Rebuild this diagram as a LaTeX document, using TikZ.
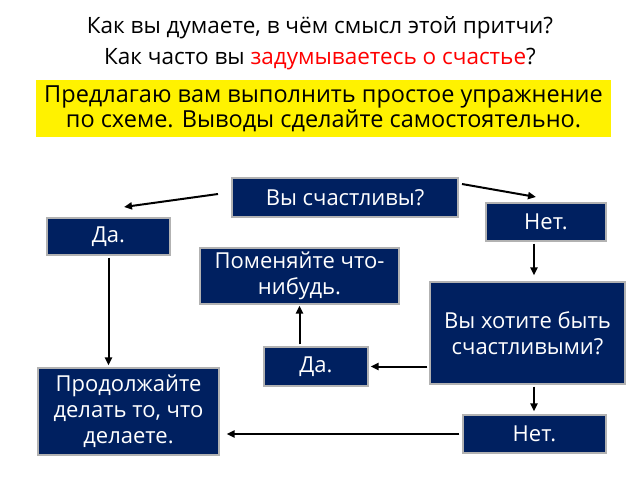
\documentclass[tikz,border=0pt]{standalone}
\usepackage{fontspec}
\setmainfont{Open Sans}
\usetikzlibrary{arrows.meta}
\definecolor{boxblue}{HTML}{002060}
\begin{document}
\begin{tikzpicture}[x=1pt, y=-1pt,
box/.style={draw=gray!60, line width=1.2pt, fill=boxblue, text=white, align=center, inner sep=1pt, font=\fontsize{22}{26}\selectfont},
arr/.style={-{Triangle[length=8pt,width=7pt]}, line width=2pt}
]
\useasboundingbox (0,0) rectangle (640,480);
%Title
\node[font=\fontsize{22.5}{26}\selectfont] (t1) at (320,28) {Как вы думаете, в чём смысл этой притчи?};
\node[font=\fontsize{22.5}{26}\selectfont] (t2) at (320,59) {Как часто вы \textcolor{red}{задумываетесь о счастье}?};
\node[fill=yellow, minimum width=575pt, minimum height=57pt, align=center, inner sep=0pt, font=\fontsize{23.5}{25}\selectfont] (task) at (323.5,108.5)
  {Предлагаю вам выполнить простое упражнение\\по схеме. Выводы сделайте самостоятельно.};
%Nodes
\node[box, minimum width=226pt, minimum height=39pt] (q1)   at (345,197.5) {Вы счастливы?};
\node[box, minimum width=120pt, minimum height=38pt] (no1)  at (546,222)   {Нет.};
\node[box, minimum width=123pt, minimum height=37pt] (yes1) at (108.5,236.5) {Да.};
\node[box, minimum width=199pt, minimum height=56pt] (chg)  at (299.5,276) {Поменяйте что-\\нибудь.};
\node[box, minimum width=195pt, minimum height=102pt] (q2)  at (527.5,333) {Вы хотите быть\\счастливыми?};
\node[box, minimum width=104pt, minimum height=39pt] (yes2) at (316,366.5) {Да.};
\node[box, minimum width=181pt, minimum height=87pt] (cont) at (128.5,411.5) {Продолжайте\\делать то, что\\делаете.};
\node[box, minimum width=143pt, minimum height=38pt] (no2)  at (534.5,434) {Нет.};
\coordinate (a1) at (218,194);
\coordinate (b1) at (124,207);
\coordinate (a2) at (462,184);
\coordinate (b2) at (536,197);
%Lines
\draw[arr] (a1) -- (b1);
\draw[arr] (a2) -- (b2);
\draw[arr, shorten <=2pt, shorten >=6pt] (no1.south -| 534,0) -- (q2.north -| 534,0);
\draw[arr, shorten <=2pt, shorten >=2pt] (yes1.south) -- (cont.north -| yes1.south);
\draw[arr, shorten <=2pt, shorten >=2pt] (q2.west |- yes2) -- (yes2.east);
\draw[arr, shorten <=2pt, shorten >=1pt] (yes2.north -| chg.south) -- (chg.south);
\draw[arr, shorten <=2pt, shorten >=3pt] (q2.south -| 534,0) -- (no2.north -| 534,0);
\draw[arr, shorten <=3pt, shorten >=7pt] (no2.west) -- (cont.east |- no2.west);
\end{tikzpicture}
\end{document}
